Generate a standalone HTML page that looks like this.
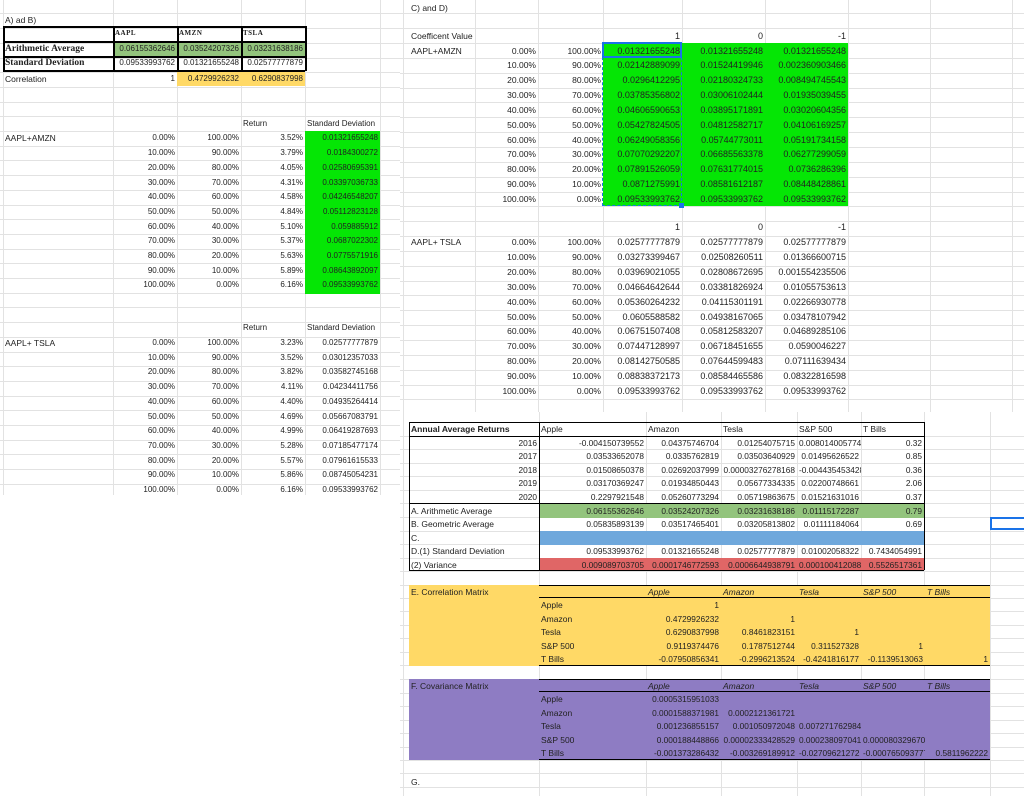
<!DOCTYPE html>
<html><head><meta charset="utf-8"><style>
body{margin:0;width:1024px;height:796px;overflow:hidden;background:#fff;font-family:"Liberation Sans",Arial,sans-serif;position:relative}
.c{position:absolute;white-space:nowrap;overflow:hidden;line-height:12px;height:12px;color:#222;box-sizing:border-box;padding:0 2px}
.r{position:absolute}
</style></head><body>
<div id="root"></div>
<script>
// ---- data ----
const topTickers=["AAPL","AMZN","TSLA"];
const topArith=[0.06155362646,0.03524207326,0.03231638186];
const topSD=[0.09533993762,0.01321655248,0.02577777879];
const topCorr=[1,0.4729926232,0.6290837998];
const weights=[0,0.1,0.2,0.3,0.4,0.5,0.6,0.7,0.8,0.9,1];
const amznRet=[3.52,3.79,4.05,4.31,4.58,4.84,5.10,5.37,5.63,5.89,6.16];
const amznSD=[0.01321655248,0.0184300272,0.02580695391,0.03397036733,0.04246548207,0.05112823128,0.059885912,0.0687022302,0.0775571916,0.08643892097,0.09533993762];
const tslaRet=[3.23,3.52,3.82,4.11,4.40,4.69,4.99,5.28,5.57,5.86,6.16];
const tslaSD=[0.02577777879,0.03012357033,0.03582745168,0.04234411756,0.04935264414,0.05667083791,0.06419287693,0.07185477174,0.07961615533,0.08745054231,0.09533993762];
const coefHeads=[1,0,-1];
const amznC1=[0.01321655248,0.02142889099,0.0296412295,0.03785356802,0.04606590653,0.05427824505,0.06249058356,0.07070292207,0.07891526059,0.0871275991,0.09533993762];
const amznC0=[0.01321655248,0.01524419946,0.02180324733,0.03006102444,0.03895171891,0.04812582717,0.05744773011,0.06685563378,0.07631774015,0.08581612187,0.09533993762];
const amznCm=[0.01321655248,0.002360903466,0.008494745543,0.01935039455,0.03020604356,0.04106169257,0.05191734158,0.06277299059,0.0736286396,0.08448428861,0.09533993762];
const tslaC1=[0.02577777879,0.03273399467,0.03969021055,0.04664642644,0.05360264232,0.0605588582,0.06751507408,0.07447128997,0.08142750585,0.08838372173,0.09533993762];
const tslaC0=[0.02577777879,0.02508260511,0.02808672695,0.03381826924,0.04115301191,0.04938167065,0.05812583207,0.06718451655,0.07644599483,0.08584465586,0.09533993762];
const tslaCm=[0.02577777879,0.01366600715,0.001554235506,0.01055753613,0.02266930778,0.03478107942,0.04689285106,0.0590046227,0.07111639434,0.08322816598,0.09533993762];
const assets=["Apple","Amazon","Tesla","S&P 500","T Bills"];
const years=[2016,2017,2018,2019,2020];
const annApple=[-0.004150739552,0.03533652078,0.01508650378,0.03170369247,0.2297921548];
const annAmazon=[0.04375746704,0.0335762819,0.02692037999,0.01934850443,0.05260773294];
const annTesla=[0.01254075715,0.03503640929,0.00003276278168,0.05677334335,0.05719863675];
const annSP=[0.008014005774,0.01495626522,-0.004435453428,0.02200748661,0.01521631016];
const annTB=[0.32,0.85,0.36,2.06,0.37];
const arithAvg=[0.06155362646,0.03524207326,0.03231638186,0.01115172287,0.79];
const geoAvg=[0.05835893139,0.03517465401,0.03205813802,0.01111184064,0.69];
const stdDev=[0.09533993762,0.01321655248,0.02577777879,0.01002058322,0.7434054991];
const variance=[0.009089703705,0.0001746772593,0.0006644938791,0.0001004120883,0.5526517361];
const corrRows=[[1],[0.4729926232,1],[0.6290837998,0.8461823151,1],[0.9119374476,0.1787512744,0.311527328,1],[-0.07950856341,-0.2996213524,-0.4241816177,-0.1139513063,1]];
const covRows=[[0.0005315951033],[0.0001588371981,0.0002121361721],[0.001236855157,0.001050972048,0.007271762984],[0.000188448866,0.00002333428529,0.0002380970418,0.0000803296704],[-0.001373286432,-0.003269189912,-0.02709621272,-0.000765093777,0.5811962222]];

const root=document.getElementById('root');
function rect(x,y,w,h,bg,name){const d=document.createElement('div');d.className='r';
d.style.cssText=`left:${x}px;top:${y}px;width:${w}px;height:${h}px;background:${bg}`;


root.appendChild(d);return d;}
function cell(x1,x2,yc,t,al,fs,extra,name){const d=document.createElement('div');d.className='c';
d.style.cssText=`left:${x1}px;width:${x2-x1}px;top:${yc-6}px;text-align:${al};font-size:${fs}px;${extra||''}`;
d.textContent=t;


root.appendChild(d);return d;}
const pct=v=>(v*100).toFixed(2)+'%';
const num=v=>String(v);
const G='#e2e2e2';

// ---- grid lines ----
for(let k=-8;k<=24;k++){const y=131+14.7*k;if(y<10||y>495)continue;rect(0,Math.round(y),400,1,G,'grid-row');}
[3,113,177,241,305,380].forEach(x=>rect(x,0,1,495,G,'grid-col'));
for(let k=-2;k<=24;k++){const y=43+14.85*k;if(y<10)continue;rect(400,Math.round(y),624,1,G,'grid-row');}
[436,449,463,476,490,503,517,531,544,558,571,585,598,611,625,638,652,665,679,693,706,720,733,747,760,773,787].forEach(y=>rect(400,y,624,1,G,'grid-row'));
[403,475,538,603,682,765,848,930,1012].forEach(x=>rect(x,0,1,412,G,'grid-col'));
[403,539,646,721,797,861,924,990].forEach(x=>rect(x,412,1,384,G,'grid-col'));

// ---- top-left table ----
cell(3,112,20,'A) ad B)','left',8.5,'','section-ab-title');
rect(113,41,192,15,'#93c47d','avg-fill');
rect(177,71,128,15,'#ffd966','corr-fill');
[26,41,56,70].forEach(y=>rect(3,y,302,1.5,'#000','table-border'));
[3,113,177,241,305].forEach(x=>rect(x,26,1.5,45,'#000','table-border'));
const cx=[113,177,241,305];
topTickers.forEach((t,i)=>cell(cx[i],cx[i+1],33,t,'left',7,'font-family:"Liberation Serif",serif;font-weight:bold;letter-spacing:.5px','ticker-header'));
cell(3,113,48.5,'Arithmetic Average','left',9.5,'font-family:"Liberation Serif",serif;font-weight:bold','arith-label');
cell(3,113,63,'Standard Deviation','left',9.5,'font-family:"Liberation Serif",serif;font-weight:bold','sd-label');
cell(3,113,79,'Correlation','left',8.5,'','corr-label');
topTickers.forEach((t,i)=>{cell(cx[i],cx[i+1],48.5,num(topArith[i]),'right',8,'','arith-value');
cell(cx[i],cx[i+1],63,num(topSD[i]),'right',8,'','sd-value');
cell(cx[i],cx[i+1],79,num(topCorr[i]),'right',8,'','corr-value');});

// ---- left portfolio tables ----
function leftBlock(y0,label,ret,sd,green){
 cell(241,305,y0-14.7,'Return','left',8,'','return-header');
 cell(305,380,y0-14.7,'Standard Deviation','left',8,'','sd-header');
 if(green)rect(305,y0-7,75,14.7*11+1,'#05e605','sd-fill');
 cell(3,113,y0,label,'left',8.5,'','portfolio-label');
 weights.forEach((w,k)=>{const y=y0+14.7*k;
  cell(113,177,y,pct(w),'right',8,'','weight-a');
  cell(177,241,y,pct(1-w),'right',8,'','weight-b');
  cell(241,305,y,ret[k].toFixed(2)+'%','right',8,'','return-value');
  cell(305,380,y,num(sd[k]),'right',8,'','sd-value');});
}
leftBlock(138.4,'AAPL+AMZN',amznRet,amznSD,true);
leftBlock(343,'AAPL+ TSLA',tslaRet,tslaSD,false);

// ---- right coefficient tables ----
cell(409,538,8,'C) and D)','left',8.5,'','section-cd-title');
const rc=[603,682,765,848];
function coefBlock(y0,label,cols,green,head){
 if(green)rect(603,y0-7.5,245,14.85*11,'#05e605','coef-fill');
 if(head)cell(409,538,y0-14.85,head,'left',8.5,'','coef-header-label');
 coefHeads.forEach((h,i)=>cell(rc[i],rc[i+1],y0-14.85,String(h),'right',9,'','coef-head'));
 cell(409,475,y0,label,'left',8.5,'','portfolio-label');
 weights.forEach((w,k)=>{const y=y0+14.85*k;
  cell(475,538,y,pct(w),'right',8.5,'','weight-a');
  cell(538,603,y,pct(1-w),'right',8.5,'','weight-b');
  cols.forEach((c,i)=>cell(rc[i],rc[i+1],y,num(c[k]),'right',9,'','coef-value'));});
}
coefBlock(50.5,'AAPL+AMZN',[amznC1,amznC0,amznCm],true,'Coefficent Value');
coefBlock(242.3,'AAPL+ TSLA',[tslaC1,tslaC0,tslaCm],false,null);
const sel=rect(602,42,80,164,'transparent','selection-range');sel.style.border='1.5px dashed #1a73e8';sel.style.boxSizing='border-box';
const sc=rect(602,42,80,16,'transparent','active-cell');sc.style.border='2px solid #1a73e8';sc.style.boxSizing='border-box';
rect(679,203,5,5,'#1a73e8','fill-handle');

// ---- annual table ----
const ac=[539,646,721,797,861,924];
rect(539,503,385,15,'#93c47d','arith-fill');
rect(539,531,385,14,'#6fa8dc','c-fill');
rect(539,558,385,12,'#e06666','variance-fill');
[422,436,503,570].forEach(y=>rect(409,y,515,1.3,'#000','table-border'));
[409,539,924].forEach(x=>rect(x,422,1.3,148,'#000','table-border'));
cell(409,539,429,'Annual Average Returns','left',8.5,'font-weight:bold','annual-title');
assets.forEach((a,i)=>cell(ac[i],ac[i+1],429,a,'left',8.5,'','asset-header'));
const annCols=[annApple,annAmazon,annTesla,annSP,annTB];
years.forEach((yr,k)=>{const y=442.5+13.5*k;cell(409,539,y,String(yr),'right',8.3,'','year-label');
 annCols.forEach((c,i)=>cell(ac[i],ac[i+1],y,num(c[k]),'right',8.3,'','annual-value'));});
const statRows=[['A. Arithmetic Average',arithAvg,511],['B. Geometric Average',geoAvg,524],['C.',null,538],['D.(1) Standard Deviation',stdDev,551],['(2) Variance',variance,564.5]];
statRows.forEach(([l,arr,y])=>{cell(409,539,y,l,'left',8.5,'','stat-label');if(arr)arr.forEach((v,i)=>cell(ac[i],ac[i+1],y,num(v),'right',8.3,'','stat-value'));});
const bc=rect(990,517,40,13,'transparent','selected-cell');bc.style.border='2px solid #1a73e8';bc.style.boxSizing='border-box';

// ---- matrices ----
const mc=[539,646,721,797,861,925,990];
function matrix(y0,title,bg,rows){
 rect(409,y0,581,81,bg,'matrix-fill');
 [y0,y0+12,y0+80].forEach(y=>rect(539,y,451,1.3,'#000','matrix-border'));
 cell(409,539,y0+7,title,'left',8.5,'','matrix-title');
 assets.forEach((a,i)=>cell(mc[i+1],mc[i+2],y0+7,a,'left',8.5,'font-style:italic','matrix-col-header'));
 assets.forEach((a,k)=>{const y=y0+20+13.5*k;cell(539,646,y,a,'left',8.5,'','matrix-row-header');
  rows[k].forEach((v,i)=>cell(mc[i+1],mc[i+2],y,num(v),'right',8.3,'','matrix-value'));});
}
matrix(585,'E. Correlation Matrix','#ffd966',corrRows);
matrix(679,'F. Covariance Matrix','#8e7cc3',covRows);
cell(409,539,782,'G.','left',8.5,'','section-g-label');
</script>
</body></html>
